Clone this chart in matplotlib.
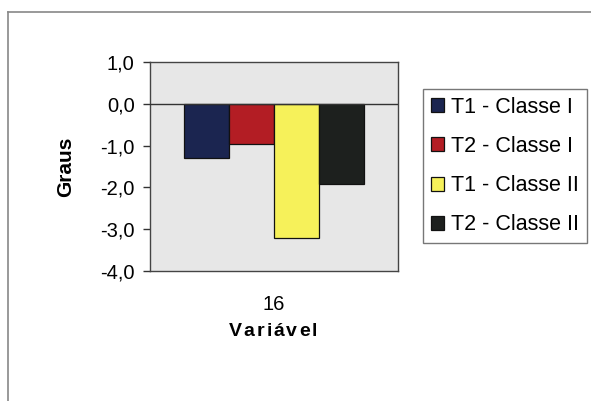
import matplotlib
matplotlib.use("Agg")
import matplotlib.pyplot as plt
from matplotlib.lines import Line2D
from matplotlib.patches import Patch

plt.rcParams['font.family'] = ['Liberation Sans', 'DejaVu Sans']

category = "16"
series_labels = ["T1 - Classe I", "T2 - Classe I", "T1 - Classe II", "T2 - Classe II"]
series_values = [-1.3, -0.97, -3.2, -1.92]
series_colors = ["#1b2550", "#b31d24", "#f6f15a", "#1d201e"]
yticks = [1.0, 0.0, -1.0, -2.0, -3.0, -4.0]
x_title = "Variável"
y_title = "Graus"

W, H = 591, 401
fig = plt.figure(figsize=(W / 100, H / 100), dpi=100)
fig.patch.set_facecolor("white")

ax = fig.add_axes([150 / W, (H - 271) / H, 248 / W, 209 / H])
ax.set_facecolor("#e7e7e7")

n = len(series_values)
positions = [i - (n - 1) / 2 for i in range(n)]
for x, v, c in zip(positions, series_values, series_colors):
    ax.bar(x, v, width=1.0, color=c, edgecolor="#111111", linewidth=0.9, zorder=3)

ax.axhline(0, color="#333333", linewidth=1.0, zorder=4)
ax.set_xlim(-2.755, 2.755)
ax.set_ylim(-4.0, 1.0)
ax.set_yticks(yticks)
ax.set_yticklabels([f"{t:.1f}".replace(".", ",") for t in yticks], fontsize=14.5)
ax.set_xticks([0])
ax.set_xticklabels([category], fontsize=14.5)
ax.tick_params(axis="x", length=0, pad=17)
ax.tick_params(axis="y", length=5, width=1, direction="out", pad=6, color="#333333")
for s in ax.spines.values():
    s.set_color("#444444")
    s.set_linewidth(1.0)

fig.text(66 / W, 1 - 167 / H, y_title, rotation=90, ha="center", va="center",
         fontsize=15, fontweight="bold")

# x-axis title drawn letter by letter with a little extra tracking
fig.canvas.draw()
renderer = fig.canvas.get_renderer()
tracking = 2.0
pieces = []
for ch in x_title:
    t = fig.text(0, 0, ch, fontsize=14, fontweight="bold", ha="left", va="center")
    pieces.append((t, t.get_window_extent(renderer).width))
total = sum(w for _, w in pieces) + tracking * (len(pieces) - 1)
xpos = 273 - total / 2
for t, w in pieces:
    t.set_position((xpos / W, 1 - 331 / H))
    xpos += w + tracking

handles = [Patch(facecolor=c, edgecolor="#111111", linewidth=0.9) for c in series_colors]
leg = fig.legend(handles, series_labels, loc="upper left",
                 bbox_to_anchor=(423 / W, 1 - 89 / H), fontsize=15.5,
                 frameon=True, fancybox=False, edgecolor="#555555",
                 handlelength=0.62, handleheight=0.62, handletextpad=0.35,
                 labelspacing=0.85, borderpad=0.35, borderaxespad=0)
leg.get_frame().set_linewidth(1.0)

# outer chart frame (left and top edges)
fig.add_artist(Line2D([8 / W, 8 / W], [0, 1 - 12 / H], color="#888888", linewidth=1.2,
                      transform=fig.transFigure))
fig.add_artist(Line2D([8 / W, 1], [1 - 12 / H, 1 - 12 / H], color="#888888", linewidth=1.2,
                      transform=fig.transFigure))

fig.savefig("out.png", dpi=100)
